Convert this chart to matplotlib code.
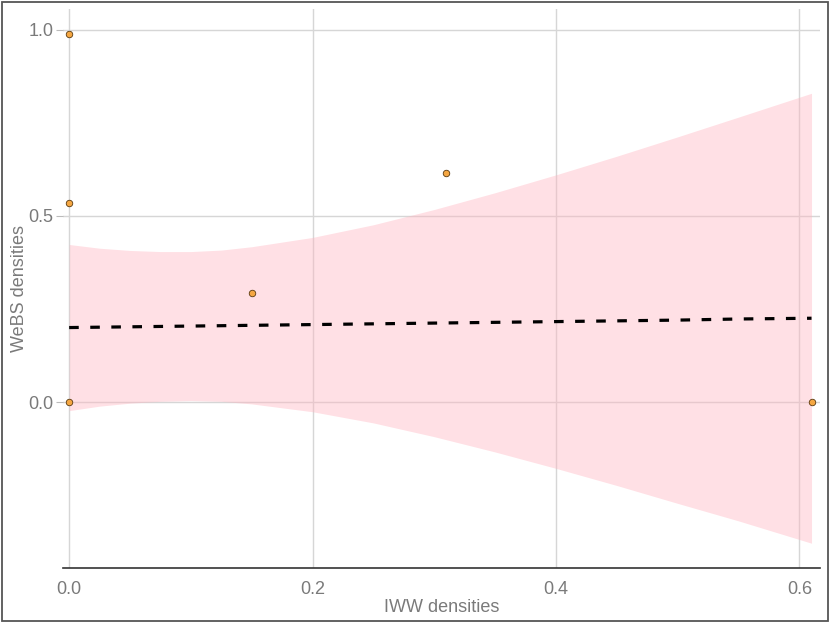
import numpy as np
import matplotlib.pyplot as plt
from matplotlib.patches import Rectangle

plt.rcParams["font.family"] = ["Liberation Sans", "DejaVu Sans"]

# observed densities
iww = [0.0, 0.0, 0.0, 0.15, 0.31, 0.61]
webs = [0.989, 0.535, 0.0, 0.293, 0.616, 0.0]

# fitted line and confidence band
fit_x = [0.0, 0.025, 0.05, 0.075, 0.10, 0.125, 0.15, 0.20, 0.25, 0.30, 0.35, 0.40, 0.45, 0.50, 0.55, 0.61]
fit_y = [0.200, 0.201, 0.202, 0.203, 0.204, 0.205, 0.206, 0.208, 0.210, 0.212, 0.214, 0.216, 0.218, 0.220, 0.223, 0.225]
ci_hi = [0.423, 0.413, 0.407, 0.404, 0.404, 0.408, 0.417, 0.442, 0.476, 0.517, 0.562, 0.610, 0.660, 0.712, 0.765, 0.829]
ci_lo = [-0.023, -0.011, -0.003, 0.002, 0.004, 0.002, -0.005, -0.026, -0.056, -0.093, -0.134, -0.178, -0.224, -0.272, -0.319, -0.379]

fig = plt.figure(figsize=(8.3, 6.23), dpi=100)
ax = fig.add_axes([0.076, 0.088, 0.912, 0.898])

ax.fill_between(fit_x, ci_lo, ci_hi, color="#ffb6c1", alpha=0.42, lw=0, zorder=2)
ax.plot(fit_x, fit_y, color="black", lw=2.3, ls=(0, (3.0, 3.6)), zorder=3)
ax.scatter(iww, webs, s=22, color="#f5a742", edgecolor="#5a3a10", linewidth=0.6, zorder=4)

ax.set_xlim(-0.005, 0.617)
ax.set_ylim(-0.446, 1.056)
ax.set_xticks([0.0, 0.2, 0.4, 0.6])
ax.set_yticks([0.0, 0.5, 1.0])
ax.grid(True, color="#d6d6d6", lw=1.0, zorder=0)
ax.set_axisbelow(True)

for s in ["top", "right", "left"]:
    ax.spines[s].set_visible(False)
ax.spines["bottom"].set_color("#333333")
ax.spines["bottom"].set_linewidth(1.2)

ax.tick_params(axis="y", length=5, color="#bbbbbb", labelcolor="#7a7a7a", labelsize=13, pad=2)
ax.tick_params(axis="x", length=0, labelcolor="#7a7a7a", labelsize=13, pad=9)

ax.set_xlabel("IWW densities", color="#7a7a7a", fontsize=13, labelpad=1)
ax.set_ylabel("WeBS densities", color="#7a7a7a", fontsize=13, labelpad=0)

# outer frame
fig.patches.append(Rectangle((0.003, 0.004), 0.994, 0.993, transform=fig.transFigure,
                             fill=False, edgecolor="#555555", lw=1.3))

fig.savefig("out.png", dpi=100)
